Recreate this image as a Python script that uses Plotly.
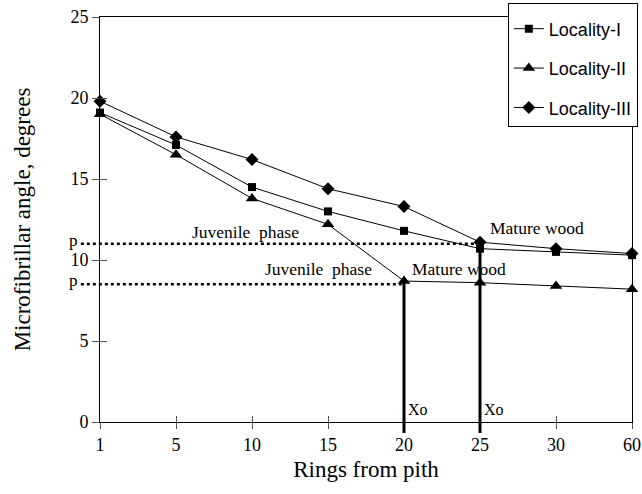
import plotly.graph_objects as go

rings = ["1", "5", "10", "15", "20", "25", "30", "60"]
loc1 = [19.1, 17.1, 14.5, 13.0, 11.8, 10.7, 10.5, 10.3]
loc2 = [19.0, 16.5, 13.8, 12.2, 8.7, 8.6, 8.4, 8.2]
loc3 = [19.8, 17.6, 16.2, 14.4, 13.3, 11.1, 10.7, 10.4]
yticks = [0, 5, 10, 15, 20, 25]
p_upper = 11.0   # Locality-I / III plateau
p_lower = 8.5    # Locality-II plateau
xo_upper = "25"
xo_lower = "20"

xpos = list(range(len(rings)))
serif = "Liberation Serif"
sans = "Liberation Sans"

fig = go.Figure()
series = [("Locality-I", loc1, "square", 8),
          ("Locality-II", loc2, "triangle-up", 11),
          ("Locality-III", loc3, "diamond", 10)]
for name, vals, sym, sz in series:
    fig.add_trace(go.Scatter(
        x=xpos, y=vals, name=name, mode="lines+markers",
        line=dict(color="black", width=1),
        marker=dict(symbol=sym, size=sz, color="black"),
        legendgroup=name, cliponaxis=False))

ix_up = rings.index(xo_upper)
ix_lo = rings.index(xo_lower)
nx = len(rings) - 1
# dotted plateau lines
for pv, ix in [(p_upper, ix_up), (p_lower, ix_lo)]:
    fig.add_shape(type="line", xref="paper", yref="y", x0=-0.036, x1=ix / nx,
                  y0=pv, y1=pv, line=dict(color="black", width=2.5, dash="dot"))
    fig.add_annotation(xref="paper", yref="y", x=-0.038, y=pv, text="p",
                       showarrow=False, xanchor="right", yanchor="bottom",
                       yshift=-8, font=dict(family=serif, size=17, color="black"))
# Xo vertical lines
for ix, top in [(ix_lo, loc2[ix_lo]), (ix_up, p_upper)]:
    fig.add_shape(type="line", xref="x", yref="y", x0=ix, x1=ix, y0=0, y1=top,
                  line=dict(color="black", width=3))
    fig.add_shape(type="line", xref="x", yref="paper", x0=ix, x1=ix, y0=-0.027, y1=0,
                  line=dict(color="black", width=3))
    fig.add_annotation(x=ix, y=0.75, text="Xo", showarrow=False, xanchor="left",
                       xshift=2, font=dict(family=serif, size=16, color="black"))

labels = [("Juvenile  phase", 1.92, 11.75), ("Juvenile  phase", 2.88, 9.45),
          ("Mature wood", 5.75, 11.95), ("Mature wood", 4.72, 9.45)]
for t, x, y in labels:
    fig.add_annotation(x=x, y=y, text=t, showarrow=False,
                       font=dict(family=serif, size=17.5, color="black"))

fig.update_layout(
    width=642, height=494,
    margin=dict(l=100, r=10, t=17, b=72, autoexpand=False),
    plot_bgcolor="white", paper_bgcolor="white",
    showlegend=True,
    legend=dict(x=1.011, y=1.0346, xanchor="right", yanchor="top",
                bgcolor="white", bordercolor="black", borderwidth=1,
                font=dict(family=sans, size=18, color="black"),
                title=dict(text=" ", font=dict(size=5)),
                traceorder="grouped", tracegroupgap=13, itemwidth=30),
    xaxis=dict(range=[0, nx], tickvals=xpos, ticktext=rings,
               showline=True, linecolor="black", linewidth=1, mirror=True,
               ticks="outside", ticklen=6, tickcolor="#555", showgrid=False,
               zeroline=False,
               tickfont=dict(family=serif, size=18, color="black"),
               title=dict(text="Rings from pith", standoff=7,
                          font=dict(family=serif, size=23, color="black"))),
    yaxis=dict(range=[0, 25], tickvals=yticks,
               showline=True, linecolor="black", linewidth=1, mirror=True,
               ticks="outside", ticklen=7, tickcolor="#555", showgrid=False,
               zeroline=False,
               tickfont=dict(family=serif, size=18, color="black"),
               title=dict(text="Microfibrillar angle, degrees", standoff=33,
                          font=dict(family=serif, size=23, color="black"))),
    xaxis2=dict(range=[0, nx], tickvals=xpos, overlaying="x", anchor="y",
                side="bottom", ticks="inside", ticklen=6, tickcolor="#555",
                showticklabels=False, showgrid=False, zeroline=False),
    yaxis2=dict(range=[0, 25], tickvals=yticks, overlaying="y", anchor="x",
                side="left", ticks="inside", ticklen=7, tickcolor="#555",
                showticklabels=False, showgrid=False, zeroline=False),
)
fig.add_trace(go.Scatter(x=[], y=[], xaxis="x2", yaxis="y2", showlegend=False))
fig.write_html("out.html")
